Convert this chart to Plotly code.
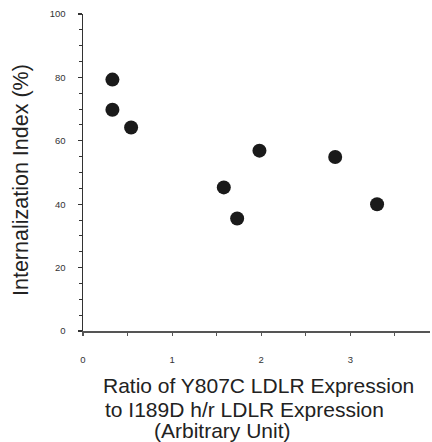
import plotly.graph_objects as go

ratio = [0.33, 0.33, 0.54, 1.58, 1.73, 1.98, 2.83, 3.30]
internalization = [79.3, 69.8, 64.2, 45.3, 35.5, 56.9, 54.9, 40.0]

x_ticks = [0, 1, 2, 3]
y_ticks = [0, 20, 40, 60, 80, 100]

x_title_lines = ["Ratio of Y807C LDLR Expression",
                 "to I189D h/r LDLR Expression",
                 "(Arbitrary Unit)"]
y_title = "Internalization Index (%)"

W, H = 432, 442
L, R, T, B = 83, 2, 14, 111
pw = W - L - R
ph = H - T - B

fig = go.Figure()
fig.add_trace(go.Scatter(
    x=ratio, y=internalization, mode="markers",
    marker=dict(size=14, color="#1a1a1a", line=dict(width=0)),
    hoverinfo="skip", showlegend=False,
))

axis_font = dict(family="Liberation Sans, Arial, sans-serif", size=9.5, color="#333")

fig.update_xaxes(
    range=[0, 3.894], tickvals=x_ticks, showgrid=False, zeroline=False,
    showline=True, linecolor="#555", linewidth=1.5,
    ticks="outside", ticklen=3, tickcolor="#555", tickwidth=1.2,
    ticklabelstandoff=16, tickfont=axis_font,
    minor=dict(dtick=0.5, ticks="outside", ticklen=3, tickcolor="#555", tickwidth=1),
)
fig.update_yaxes(
    range=[0, 100], tickvals=y_ticks, showgrid=False, zeroline=False,
    showline=True, linecolor="#333", linewidth=1.5,
    ticks="outside", ticklen=4, tickcolor="#333", tickwidth=1.2,
    ticklabelstandoff=10, tickfont=axis_font,
    minor=dict(dtick=5, ticks="outside", ticklen=3, tickcolor="#333", tickwidth=1),
)

title_font = dict(family="Liberation Sans, Arial, sans-serif", size=21, color="#222")

def px_x(p):
    return (p - L) / pw

def px_y(p):
    return (H - B - p) / ph

line_pos = [(101, 385), (103, 409), (152, 430)]
for text, (lx, ly) in zip(x_title_lines, line_pos):
    fig.add_annotation(text=text, xref="paper", yref="paper",
                       x=px_x(lx), y=px_y(ly), xanchor="left", yanchor="middle",
                       showarrow=False, font=title_font)

fig.add_annotation(text=y_title, xref="paper", yref="paper",
                   x=px_x(21), y=px_y(180), xanchor="center", yanchor="middle",
                   textangle=-90, showarrow=False,
                   font=dict(family="Liberation Sans, Arial, sans-serif", size=21.5, color="#222"))

fig.update_layout(
    width=W, height=H, margin=dict(l=L, r=R, t=T, b=B),
    plot_bgcolor="white", paper_bgcolor="white",
)

fig.write_html("out.html", config={"displayModeBar": False, "staticPlot": True})

with open("out.html", "r", encoding="utf-8") as f:
    html = f.read()
html = html.replace("<head>", "<head><style>html,body{margin:0;padding:0;overflow:hidden;}</style>", 1)
with open("out.html", "w", encoding="utf-8") as f:
    f.write(html)
